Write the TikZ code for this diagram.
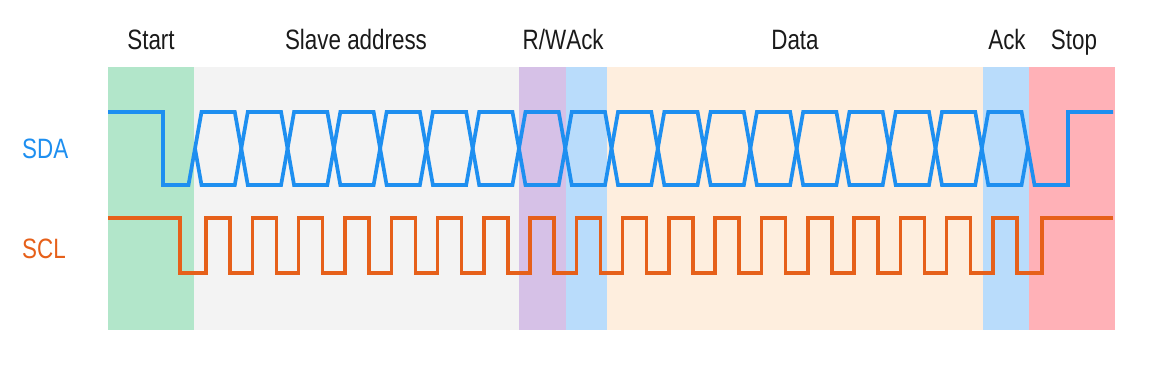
\documentclass[tikz,border=0pt]{standalone}
\usepackage{fontspec}
\setmainfont{Liberation Sans}[FakeStretch=0.8]
\definecolor{cstart}{HTML}{B2E6CA}
\definecolor{caddr}{HTML}{F3F3F3}
\definecolor{crw}{HTML}{D6C1E7}
\definecolor{cack}{HTML}{B9DCFB}
\definecolor{cdata}{HTML}{FEEEDE}
\definecolor{cstop}{HTML}{FFB1B7}
\definecolor{csda}{HTML}{1E8FF0}
\definecolor{cscl}{HTML}{E6601A}
\definecolor{ctext}{HTML}{1A1A1A}
\tikzset{
  region/.style={fill=#1, draw=none},
  title/.style={anchor=base, text=ctext, font=\fontsize{28}{30}\selectfont, inner sep=0pt},
  siglabel/.style={anchor=base west, font=\fontsize{28}{30}\selectfont, inner sep=0pt},
  sdaline/.style={draw=csda, line width=3.7pt, line join=miter},
  sclline/.style={draw=cscl, line width=3.5pt, line join=miter},
}
\begin{document}
\begin{tikzpicture}[x=1pt,y=-1pt]
\useasboundingbox (0,0) rectangle (1164,367);
% regions
\fill[region=cstart] (108,67) rectangle (194,330);
\fill[region=caddr] (194,67) rectangle (519,330);
\fill[region=crw] (519,67) rectangle (566,330);
\fill[region=cack] (566,67) rectangle (607,330);
\fill[region=cdata] (607,67) rectangle (983,330);
\fill[region=cack] (983,67) rectangle (1029,330);
\fill[region=cstop] (1029,67) rectangle (1115,330);
% titles
\node[title] (tstart) at (151,49) {Start};
\node[title] (taddr) at (356,49) {Slave address};
\node[title] (trw) at (544.5,49) {R/W};
\node[title] (tack1) at (585,49) {Ack};
\node[title] (tdata) at (795,49) {Data};
\node[title] (tack2) at (1007,49) {Ack};
\node[title] (tstop) at (1074,49) {Stop};
% signal labels
\node[siglabel, text=csda] (lsda) at (22,158) {SDA};
\node[siglabel, text=cscl] (lscl) at (22,258) {SCL};
% SDA
\draw[sdaline] (108,112) -- (163,112) -- (163,185) -- (188.5,185) -- (195,148.5)
  \foreach \k [evaluate=\k as \y using {mod(\k,2)==0 ? 112 : 185}] in {0,...,17} {
    -- ({195+46.28*\k+6.5},\y) -- ({195+46.28*(\k+1)-6.5},\y) }
  -- (1028.04,148.5);
\draw[sdaline] (195,148.5)
  \foreach \k [evaluate=\k as \y using {mod(\k,2)==0 ? 185 : 112}] in {0,...,17} {
    -- ({195+46.28*\k+6.5},\y) -- ({195+46.28*(\k+1)-6.5},\y) }
  -- (1034.5,185) -- (1068,185) -- (1068,112) -- (1113,112);
% SCL
\draw[sclline] (108,218) -- (180,218) -- (180,273)
  \foreach \k in {0,...,17} {
    -- ({195+46.28*(\k+0.5)-12},273) -- ({195+46.28*(\k+0.5)-12},218)
    -- ({195+46.28*(\k+0.5)+12},218) -- ({195+46.28*(\k+0.5)+12},273) }
  -- (1042,273) -- (1042,218) -- (1113,218);
\end{tikzpicture}
\end{document}
